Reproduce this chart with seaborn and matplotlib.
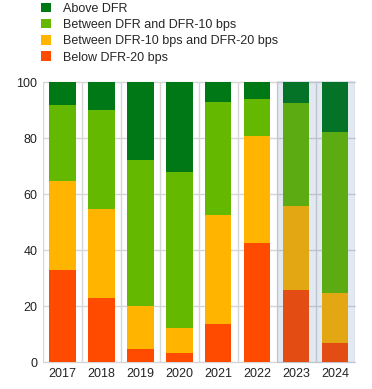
import matplotlib
matplotlib.use("Agg")
import matplotlib.pyplot as plt
import seaborn as sns
import numpy as np
import pandas as pd
from matplotlib.patches import Patch

sns.set_theme(style="white")
plt.rcParams['font.family'] = ['Liberation Sans', 'DejaVu Sans']

years = ["2017", "2018", "2019", "2020", "2021", "2022", "2023", "2024"]
below_20 = [33.0, 23.0, 4.6, 3.2, 13.6, 42.5, 25.7, 6.8]
between_10_20 = [31.6, 31.6, 15.4, 8.9, 38.9, 38.2, 30.0, 17.8]
between_0_10 = [27.2, 35.4, 52.0, 55.8, 40.4, 13.2, 36.8, 57.5]
above = [8.2, 10.0, 28.0, 32.1, 7.1, 6.1, 7.5, 17.9]

labels = ["Above DFR", "Between DFR and DFR-10 bps",
          "Between DFR-10 bps and DFR-20 bps", "Below DFR-20 bps"]
colors = ["#007816", "#65B800", "#FFB400", "#FF4B00"]

df = pd.DataFrame({"year": years, "below": below_20, "b1020": between_10_20,
                   "b010": between_0_10, "above": above})
df["c1"] = df["below"]
df["c2"] = df["c1"] + df["b1020"]
df["c3"] = df["c2"] + df["b010"]
df["c4"] = df["c3"] + df["above"]

fig = plt.figure(figsize=(3.72, 3.89), dpi=100)
ax = fig.add_axes([0.1156, 0.0694, 0.8384, 0.7196])

for col, c in zip(["c4", "c3", "c2", "c1"], colors):
    sns.barplot(data=df, x="year", y=col, color=c, width=0.67, ax=ax,
                saturation=1, zorder=2, linewidth=0)

ax.set_xlim(-0.5, 7.5)
ax.set_ylim(0, 100)
ax.set_yticks([0, 20, 40, 60, 80, 100])
ax.set_xlabel("")
ax.set_ylabel("")
for s in ax.spines.values():
    s.set_visible(False)
gc = "#D6D6D6"
for yv in [0, 20, 40, 60, 80, 100]:
    ax.axhline(yv, color=gc, lw=1, zorder=1, clip_on=False)
for xv in np.arange(-0.5, 8.0, 1.0):
    ax.axvline(xv, color=gc, lw=1, zorder=1)
ax.tick_params(axis="both", length=0, labelsize=9, colors="#222222", pad=4)

ax.axvspan(5.5, 7.5, ymin=-0.004, ymax=1.004, color="#28559A", alpha=0.13,
           zorder=3, lw=0, clip_on=False)

handles = [Patch(facecolor=c, edgecolor="none") for c in colors]
fig.legend(handles, labels, loc="upper left", bbox_to_anchor=(0.098, 1.006),
           frameon=False, fontsize=9, handlelength=0.8, handleheight=0.8,
           handletextpad=0.96, labelspacing=0.33, borderaxespad=0)

fig.savefig("out.png", dpi=100)
